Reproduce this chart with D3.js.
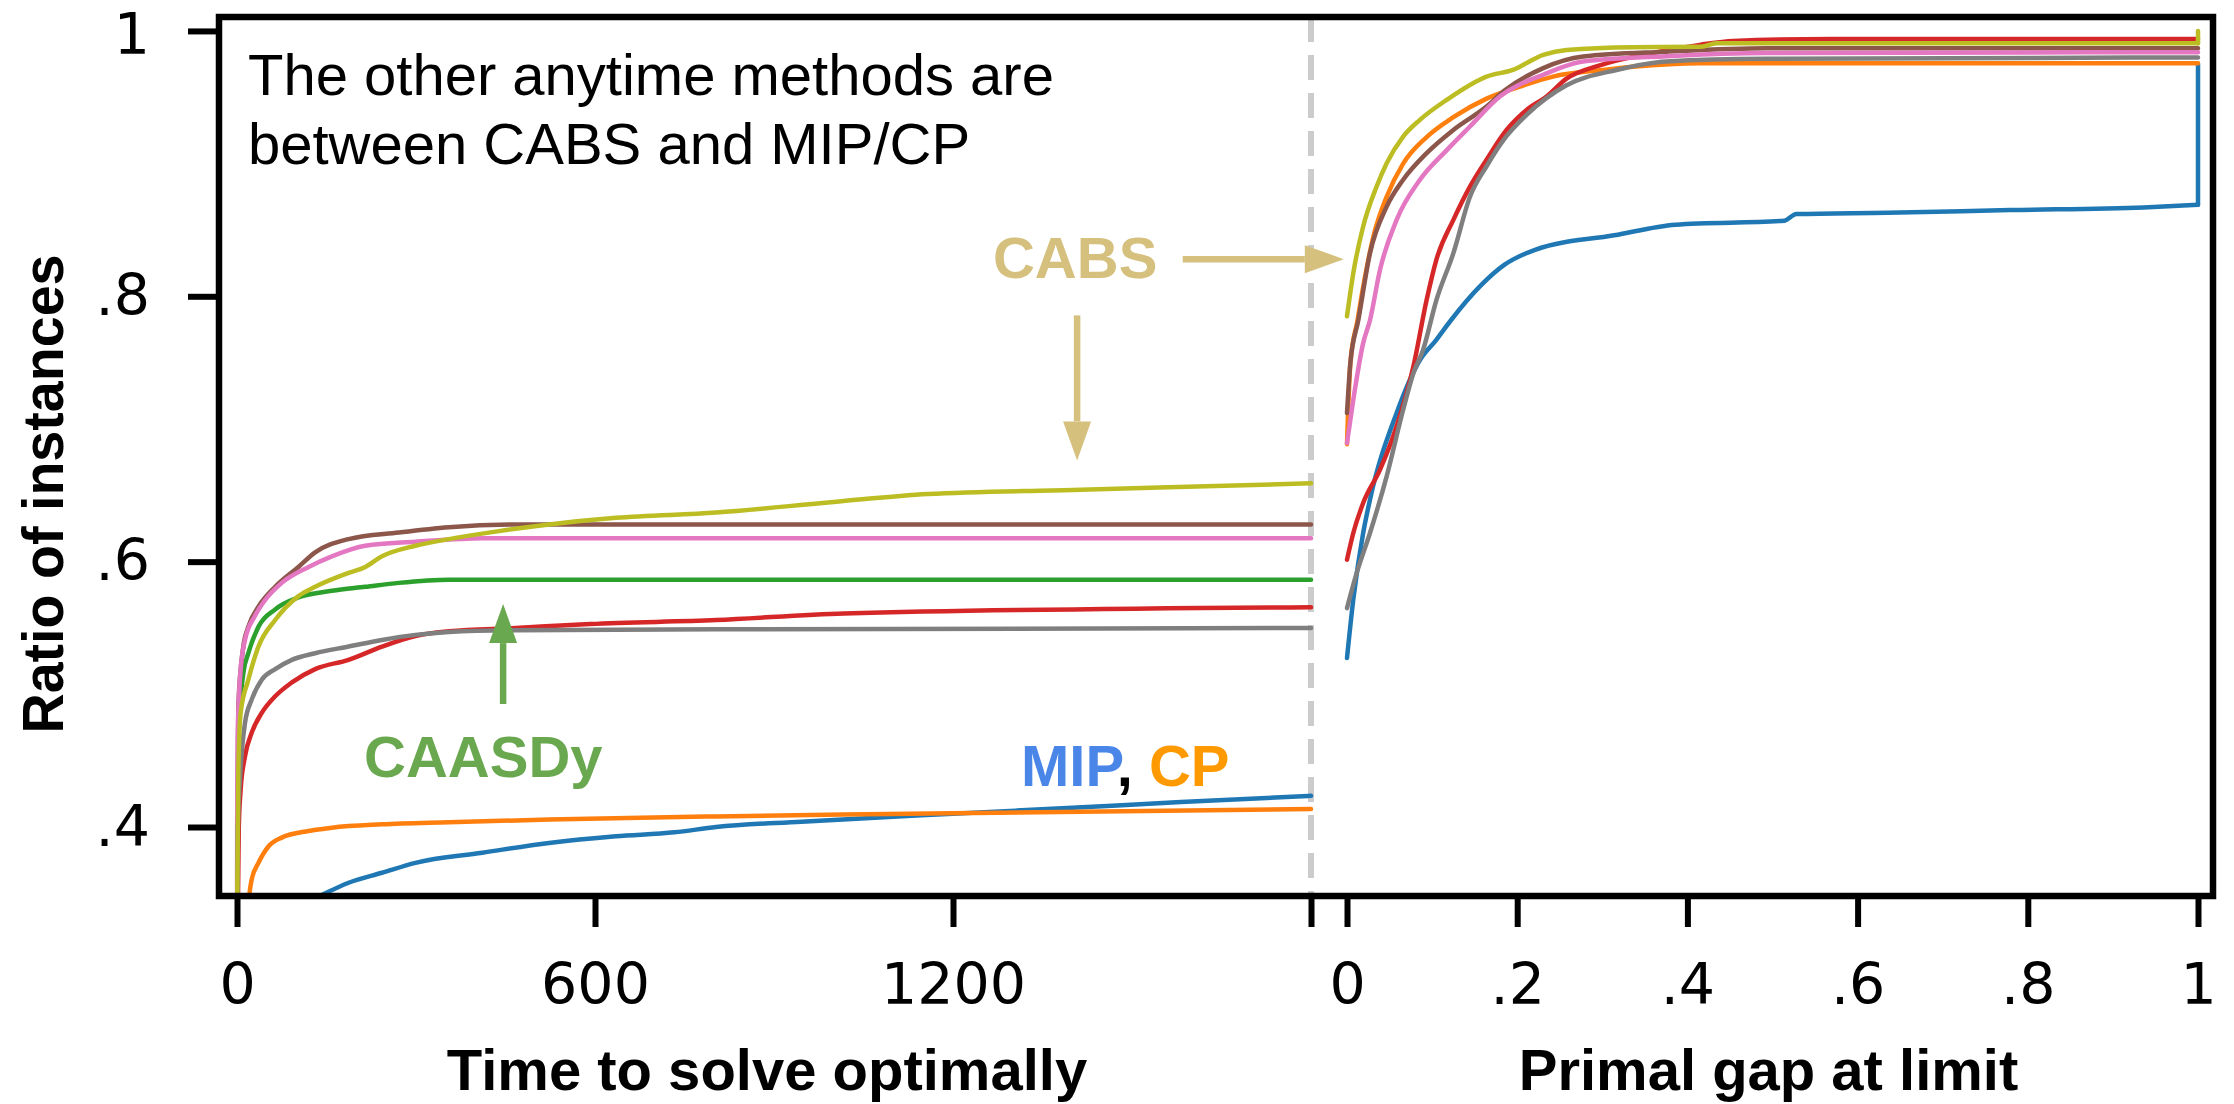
<!DOCTYPE html>
<html>
<head>
<meta charset="utf-8">
<script src="https://cdn.jsdelivr.net/npm/d3@7"></script>
<style>
  body { margin: 0; background: #fff; }
  .tick text { font-family: "DejaVu Sans", sans-serif; font-size: 57px; fill: #000; }
  .tick line { stroke: #000; stroke-width: 6; }
  .note { font-family: "Liberation Sans", Arial, sans-serif; font-size: 58px; }
</style>
</head>
<body>
<div id="chart"></div>
<script>
// tick values and labels
const timeTicks = [0, 600, 1200, 1800];
const timeTickLabels = ["0", "600", "1200", ""];
const gapTicks = [0, 0.2, 0.4, 0.6, 0.8, 1];
const gapTickLabels = ["0", ".2", ".4", ".6", ".8", "1"];
const ratioTicks = [0.4, 0.6, 0.8, 1];
const ratioTickLabels = [".4", ".6", ".8", "1"];

// left panel: [time to solve optimally, ratio of instances]
const timeMIP = [[130, 0.346], [148, 0.350], [187, 0.358], [243, 0.3655], [299, 0.373], [411, 0.3806],
  [523, 0.388], [635, 0.393], [733, 0.396], [803, 0.400], [946, 0.404], [1200, 0.410], [1400, 0.4145],
  [1582, 0.4188], [1800, 0.4235]];
const timeCP = [[17, 0.33], [21, 0.35], [24.6, 0.3605], [36, 0.373], [53, 0.3855], [75, 0.392],
  [120, 0.397], [159, 0.3995], [243, 0.402], [355, 0.4036], [523, 0.4056], [803, 0.408],
  [1017, 0.4094], [1800, 0.4135]];
const timeCAASDy = [[0, 0.30], [1.5, 0.42], [2.2, 0.466], [10.6, 0.516], [19, 0.531], [36, 0.551],
  [64, 0.564], [103, 0.573], [159, 0.578], [215, 0.581], [271, 0.584], [355, 0.5864], [1800, 0.5864]];
const timeRed = [[0.5, 0.30], [3, 0.40], [6.1, 0.428], [13.4, 0.4533], [24.6, 0.471], [41.5, 0.486],
  [64, 0.4985], [92, 0.509], [131, 0.519], [187, 0.526], [243, 0.536], [299, 0.544], [355, 0.5475],
  [467, 0.550], [592, 0.553], [803, 0.556], [1017, 0.561], [1800, 0.5657]];
const timeBrown = [[0, 0.30], [1, 0.40], [2.2, 0.491], [10.6, 0.536], [19, 0.551], [36, 0.566],
  [64, 0.581], [103, 0.596], [131, 0.607], [187, 0.617], [271, 0.622], [355, 0.626], [467, 0.628],
  [1800, 0.628]];
const timePink = [[0, 0.30], [0.3, 0.40], [1, 0.466], [5.6, 0.516], [13.4, 0.541], [30, 0.559],
  [47, 0.571], [75, 0.584], [120, 0.596], [159, 0.604], [215, 0.612], [299, 0.615], [411, 0.6177],
  [1800, 0.6177]];
const timeGrey = [[0, 0.30], [1.5, 0.40], [5.6, 0.441], [13.4, 0.4785], [24.6, 0.496], [41.5, 0.511],
  [64, 0.519], [92, 0.526], [131, 0.531], [187, 0.536], [243, 0.541], [299, 0.5448], [355, 0.547],
  [467, 0.5483], [803, 0.549], [1800, 0.550]];
const timeCABS = [[0, 0.30], [0.5, 0.35], [2.2, 0.441], [6.1, 0.486], [19, 0.511], [36, 0.536],
  [64, 0.556], [103, 0.574], [131, 0.581], [187, 0.5915], [215, 0.596], [243, 0.604], [299, 0.612],
  [355, 0.617], [439, 0.623], [523, 0.628], [635, 0.633], [803, 0.637], [1000, 0.645], [1158, 0.651],
  [1400, 0.654], [1800, 0.659]];

// right panel: [primal gap at limit, ratio of instances]
const gapMIP = [[0, 0.5274], [0.0074, 0.5714], [0.019, 0.6216], [0.027, 0.6467], [0.0583, 0.712],
  [0.0857, 0.752], [0.105, 0.7672], [0.121, 0.781], [0.157, 0.808], [0.1856, 0.824], [0.221, 0.835],
  [0.314, 0.846], [0.386, 0.854], [0.514, 0.857], [0.528, 0.862], [0.635, 0.863], [0.779, 0.865],
  [0.936, 0.867], [1, 0.869], [1, 0.975]];
const gapCP = [[0, 0.6885], [0.004, 0.75], [0.0124, 0.782], [0.019, 0.807], [0.031, 0.845],
  [0.0466, 0.875], [0.066, 0.900], [0.0936, 0.920], [0.125, 0.935], [0.164, 0.949], [0.203, 0.958],
  [0.242, 0.9656], [0.301, 0.9706], [0.336, 0.973], [0.4146, 0.9757], [1, 0.9757]];
const gapRed = [[0, 0.6015], [0.0074, 0.6216], [0.019, 0.6442], [0.0388, 0.6693], [0.0583, 0.702],
  [0.078, 0.747], [0.0936, 0.7974], [0.105, 0.8275], [0.125, 0.8576], [0.1445, 0.8827], [0.164, 0.903],
  [0.1875, 0.9254], [0.211, 0.9405], [0.2345, 0.9505], [0.258, 0.964], [0.297, 0.974], [0.356, 0.983],
  [0.4146, 0.9895], [0.4537, 0.9925], [0.571, 0.994], [1, 0.994]];
const gapBrown = [[0, 0.712], [0.004, 0.75], [0.0133, 0.782], [0.027, 0.8325], [0.0466, 0.8676],
  [0.066, 0.8878], [0.0936, 0.9079], [0.125, 0.9254], [0.164, 0.943], [0.185, 0.955], [0.2306, 0.972],
  [0.2775, 0.9807], [0.3755, 0.9844], [0.493, 0.987], [1, 0.987]];
const gapPink = [[0, 0.6894], [0.0074, 0.722], [0.019, 0.7647], [0.027, 0.782], [0.0388, 0.82],
  [0.0583, 0.8576], [0.0857, 0.8878], [0.117, 0.910], [0.1445, 0.928], [0.18, 0.9507], [0.2306, 0.967],
  [0.2775, 0.977], [0.3755, 0.981], [0.493, 0.9834], [1, 0.984]];
const gapGrey = [[0, 0.565], [0.0114, 0.5915], [0.027, 0.6216], [0.0466, 0.6643], [0.066, 0.7145],
  [0.078, 0.742], [0.0896, 0.760], [0.105, 0.797], [0.125, 0.8325], [0.1445, 0.875], [0.164, 0.898],
  [0.1836, 0.9175], [0.211, 0.9367], [0.258, 0.959], [0.3167, 0.9706], [0.3755, 0.977], [0.493, 0.979],
  [1, 0.980]];
const gapCABS = [[0, 0.785], [0.0074, 0.8175], [0.019, 0.8526], [0.0348, 0.8827], [0.0466, 0.9003],
  [0.066, 0.9204], [0.0857, 0.933], [0.117, 0.948], [0.164, 0.9656], [0.195, 0.9706], [0.2306, 0.982],
  [0.258, 0.9857], [0.336, 0.9877], [0.4146, 0.988], [0.434, 0.9907], [1, 0.9907], [1, 1.0]];

// drawn in the tab10 order, CABS (olive) last
const series = [
  { color: "#1f77b4", time: timeMIP, gap: gapMIP },
  { color: "#ff7f0e", time: timeCP, gap: gapCP },
  { color: "#2ca02c", time: timeCAASDy, gap: [] },
  { color: "#d62728", time: timeRed, gap: gapRed },
  { color: "#8c564b", time: timeBrown, gap: gapBrown },
  { color: "#e377c2", time: timePink, gap: gapPink },
  { color: "#7f7f7f", time: timeGrey, gap: gapGrey },
  { color: "#bcbd22", time: timeCABS, gap: gapCABS }
];

const width = 2234, height = 1104;
const frame = { left: 219, right: 2213, top: 17, bottom: 896 };

const svg = d3.select("#chart").append("svg")
  .attr("width", width)
  .attr("height", height);

// scales: one y, two x (time on the left, gap on the right)
const y = d3.scaleLinear().domain([0.348, 1.0105]).range([frame.bottom, frame.top]);
const xTime = d3.scaleLinear().domain([0, 1800]).range([237, 1311]);
const xGap = d3.scaleLinear().domain([0, 1]).range([1347, 2198]);

svg.append("clipPath").attr("id", "plot-clip")
  .append("rect")
  .attr("x", frame.left).attr("y", frame.top)
  .attr("width", frame.right - frame.left).attr("height", frame.bottom - frame.top);

// separator between the two panels
svg.append("line")
  .attr("x1", xTime(1800)).attr("x2", xTime(1800))
  .attr("y1", frame.top).attr("y2", frame.bottom)
  .attr("stroke", "#cccccc")
  .attr("stroke-width", 6)
  .attr("stroke-dasharray", "25,13");

const smooth = d3.curveMonotoneX;
const lineTime = d3.line().curve(smooth).x(d => xTime(d[0])).y(d => y(d[1]));
const lineGap = d3.line().curve(smooth).x(d => xGap(d[0])).y(d => y(d[1]));
const lineGapStep = d3.line().x(d => xGap(d[0])).y(d => y(d[1]));

const curves = svg.append("g").attr("clip-path", "url(#plot-clip)")
  .attr("fill", "none").attr("stroke-width", 4.5)
  .attr("stroke-linejoin", "round").attr("stroke-linecap", "round");

series.forEach(s => {
  curves.append("path").attr("d", lineTime(s.time)).attr("stroke", s.color);
  if (!s.gap.length) return;
  const n = s.gap.length;
  // a final vertical jump at gap = 1 is drawn as a plain segment
  const jump = n > 1 && s.gap[n - 1][0] === s.gap[n - 2][0];
  const main = jump ? s.gap.slice(0, n - 1) : s.gap;
  curves.append("path").attr("d", lineGap(main)).attr("stroke", s.color);
  if (jump) {
    curves.append("path").attr("d", lineGapStep(s.gap.slice(n - 2))).attr("stroke", s.color);
  }
});

// axes
svg.append("g")
  .attr("transform", "translate(0," + frame.bottom + ")")
  .call(d3.axisBottom(xTime).tickValues(timeTicks)
    .tickFormat((d, i) => timeTickLabels[i]).tickSize(31).tickPadding(37))
  .call(g => g.select(".domain").remove());

svg.append("g")
  .attr("transform", "translate(0," + frame.bottom + ")")
  .call(d3.axisBottom(xGap).tickValues(gapTicks)
    .tickFormat((d, i) => gapTickLabels[i]).tickSize(31).tickPadding(37))
  .call(g => g.select(".domain").remove());

svg.append("g")
  .attr("transform", "translate(" + frame.left + ",0)")
  .call(d3.axisLeft(y).tickValues(ratioTicks)
    .tickFormat((d, i) => ratioTickLabels[i]).tickSize(31).tickPadding(38))
  .call(g => g.select(".domain").remove())
  // keep the top label inside the page
  .call(g => g.selectAll(".tick text").filter(d => d === 1).attr("y", 4));

// frame
svg.append("rect")
  .attr("x", frame.left).attr("y", frame.top)
  .attr("width", frame.right - frame.left).attr("height", frame.bottom - frame.top)
  .attr("fill", "none").attr("stroke", "#000").attr("stroke-width", 6.5);

// axis titles
svg.append("text").attr("class", "note")
  .attr("x", (xTime.range()[0] + xTime.range()[1]) / 2 - 7).attr("y", 1090)
  .attr("text-anchor", "middle").attr("font-weight", "bold")
  .text("Time to solve optimally");
svg.append("text").attr("class", "note")
  .attr("x", (xGap.range()[0] + xGap.range()[1]) / 2 - 4).attr("y", 1090)
  .attr("text-anchor", "middle").attr("font-weight", "bold")
  .text("Primal gap at limit");
svg.append("text").attr("class", "note")
  .attr("transform", "translate(63,494) rotate(-90)")
  .attr("text-anchor", "middle").attr("font-weight", "bold")
  .attr("textLength", 479).attr("lengthAdjust", "spacingAndGlyphs")
  .text("Ratio of instances");

// annotations, placed in data coordinates of the left panel
const cabsColor = "#d5c07e";
const note = svg.append("text").attr("class", "note");
note.append("tspan").attr("x", xTime(18.4)).attr("y", y(0.952)).text("The other anytime methods are");
note.append("tspan").attr("x", xTime(18.4)).attr("y", y(0.8997)).text("between CABS and MIP/CP");

svg.append("text").attr("class", "note").attr("font-weight", "bold").attr("fill", cabsColor)
  .attr("x", xTime(1267)).attr("y", y(0.8138)).text("CABS");

svg.append("text").attr("class", "note").attr("font-weight", "bold").attr("fill", "#6aa84f")
  .attr("x", xTime(213)).attr("y", y(0.4377)).text("CAASDy");

const mipcp = svg.append("text").attr("class", "note").attr("font-weight", "bold")
  .attr("x", xTime(1314)).attr("y", y(0.4311));
mipcp.append("tspan").attr("fill", "#4a86e8").text("MIP");
mipcp.append("tspan").attr("fill", "#000").text(", ");
mipcp.append("tspan").attr("fill", "#ff9900").text("CP");

function arrow(x1, y1, x2, y2, color) {
  const len = 39, half = 14;
  const a = Math.atan2(y2 - y1, x2 - x1);
  const bx = x2 - len * Math.cos(a), by = y2 - len * Math.sin(a);
  svg.append("line")
    .attr("x1", x1).attr("y1", y1).attr("x2", bx).attr("y2", by)
    .attr("stroke", color).attr("stroke-width", 6.5);
  svg.append("polygon")
    .attr("points", [
      [x2, y2],
      [bx + half * Math.sin(a), by - half * Math.cos(a)],
      [bx - half * Math.sin(a), by + half * Math.cos(a)]
    ].map(p => p.join(",")).join(" "))
    .attr("fill", color);
}

arrow(xTime(1585), y(0.828), xTime(1855), y(0.828), cabsColor);
arrow(xTime(1408), y(0.7856), xTime(1408), y(0.6763), cabsColor);
arrow(xTime(446), y(0.4927), xTime(446), y(0.568), "#6aa84f");
</script>
</body>
</html>
